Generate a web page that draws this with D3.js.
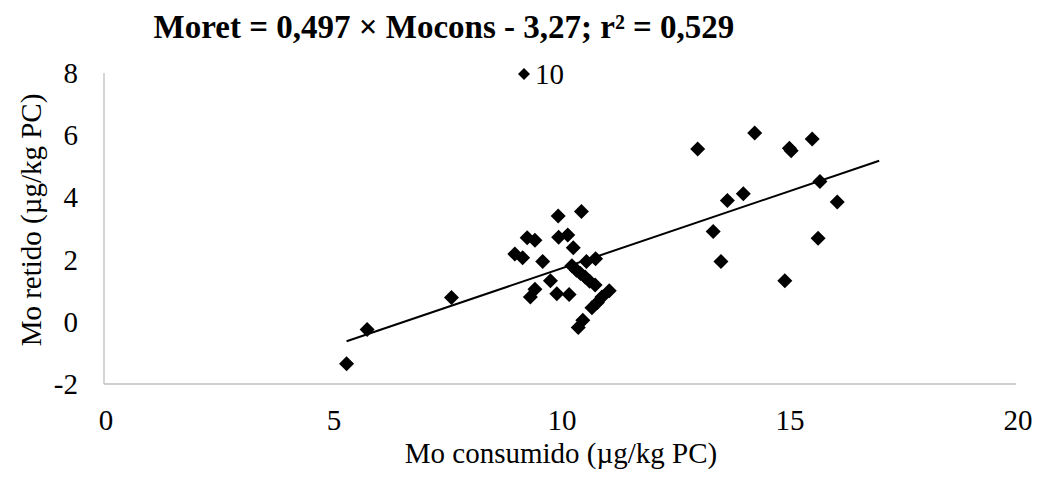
<!DOCTYPE html>
<html><head><meta charset="utf-8">
<script src="https://cdn.jsdelivr.net/npm/d3@7"></script>
<style>body{margin:0;background:#fff}svg{display:block}text{font-family:"Liberation Serif","Times New Roman",serif;fill:#000}</style>
</head><body><svg id="c" width="1041" height="481"></svg>
<script>
const xVals=[5.32,5.77,7.62,9.01,9.18,9.28,9.45,9.62,9.96,10.47,9.97,10.17,10.29,9.79,9.45,9.35,9.93,10.2,10.26,10.36,10.45,10.55,10.65,10.77,10.58,10.78,11.08,10.92,10.82,10.70,10.50,10.40,13.02,14.27,13.67,14.02,13.36,13.53,15.03,15.07,15.53,15.70,16.08,15.66,14.93];
const yVals=[-1.35,-0.25,0.78,2.18,2.06,2.70,2.62,1.94,3.40,3.55,2.72,2.79,2.38,1.32,1.05,0.80,0.90,0.88,1.80,1.66,1.55,1.44,1.30,1.18,1.94,2.03,1.00,0.80,0.62,0.45,0.05,-0.18,5.56,6.07,3.90,4.12,2.90,1.94,5.58,5.50,5.88,4.51,3.85,2.69,1.32];
const xTicks=[0,5,10,15,20];
const yTicks=[-2,0,2,4,6,8];
const slope=0.497, intercept=-3.27, trendEnd=17;
const title="Moret = 0,497 × Mocons - 3,27; r² = 0,529";
const seriesName="10";
const xLabel="Mo consumido (µg/kg PC)";
const yLabel="Mo retido (µg/kg PC)";

const svg=d3.select("#c");
const x=d3.scaleLinear().domain([0,20]).range([104,1016]);
const y=d3.scaleLinear().domain([-2,8]).range([384,73]);
const grey="#bfbfbf";
const fs=29;
svg.append("line").attr("x1",x(0)).attr("x2",x(0)).attr("y1",y(8)).attr("y2",y(-2)).attr("stroke",grey).attr("stroke-width",1.3);
svg.append("line").attr("x1",x(0)).attr("x2",x(20)).attr("y1",y(-2)).attr("y2",y(-2)).attr("stroke",grey).attr("stroke-width",1.3);
svg.selectAll(".xt").data(xTicks).join("text").attr("x",d=>x(d)+2).attr("y",430).attr("text-anchor","middle").attr("font-size",fs).text(d=>d);
svg.selectAll(".yt").data(yTicks).join("text").attr("x",78).attr("y",d=>y(d)+10).attr("text-anchor","end").attr("font-size",fs).text(d=>d);
svg.append("text").attr("x",561).attr("y",463).attr("text-anchor","middle").attr("font-size",fs).text(xLabel);
svg.append("text").attr("transform","translate(41,220) rotate(-90)").attr("text-anchor","middle").attr("font-size",fs).text(yLabel);
svg.append("text").attr("x",444).attr("y",38).attr("text-anchor","middle").attr("font-size",33).attr("font-weight","bold").text(title);
const xmin=d3.min(xVals);
svg.append("line").attr("x1",x(xmin)).attr("y1",y(slope*xmin+intercept)).attr("x2",x(trendEnd)).attr("y2",y(slope*trendEnd+intercept)).attr("stroke","#000").attr("stroke-width",2);
const dia=r=>`M0,${-r}L${r},0L0,${r}L${-r},0Z`;
const pts=xVals.map((v,i)=>[v,yVals[i]]);
svg.selectAll(".p").data(pts).join("path").attr("d",dia(7.5)).attr("transform",d=>`translate(${x(d[0])},${y(d[1])})`).attr("fill","#000");
svg.append("path").attr("d",dia(6)).attr("transform","translate(524,74)").attr("fill","#000");
svg.append("text").attr("x",535).attr("y",84).attr("font-size",fs).text(seriesName);
</script></body></html>
